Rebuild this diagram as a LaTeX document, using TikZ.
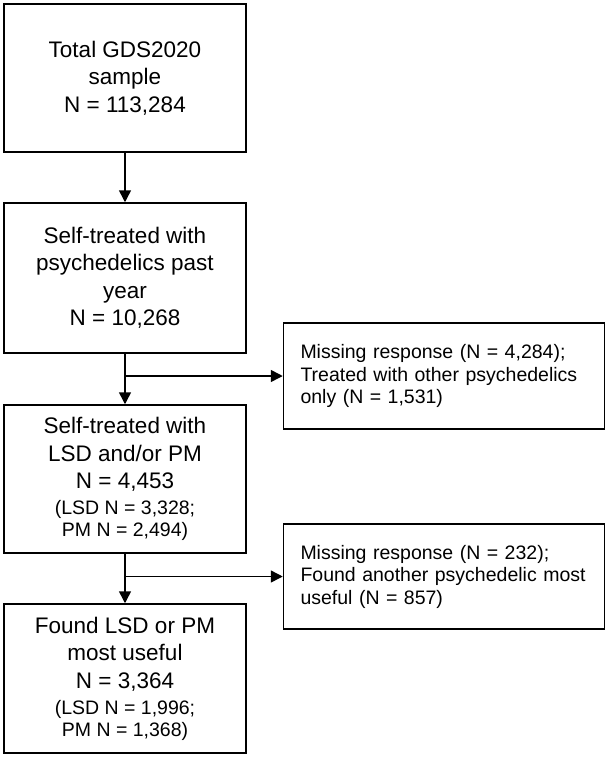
\documentclass[tikz,border=0pt]{standalone}
\usepackage{fontspec}
\setmainfont{Liberation Sans}
\usetikzlibrary{arrows.meta}
\newcommand\subline{\fontsize{19.5}{22}\selectfont}
\tikzset{
  mainbox/.style={draw, line width=1.5pt, minimum width=242pt, inner sep=0pt,
    align=center, font=\fontsize{22.5}{27.5}\selectfont},
  sidebox/.style={draw, line width=1.5pt, minimum width=321pt, inner xsep=17pt,
    text width=287pt, align=left, font=\fontsize{19.5}{22.5}\selectfont},
  flow/.style={line width=1.5pt, -{Triangle[length=12pt,width=12pt]}}
}
\begin{document}
\begin{tikzpicture}[x=1pt, y=-1pt]
        \useasboundingbox (0, 0) rectangle (609, 758);

        \node[mainbox, minimum height=148pt] (total) at (125, 78)
          {Total GDS2020\\ sample\\ N = 113,284};
        \node[mainbox, minimum height=150pt] (psy) at (125, 278)
          {Self-treated with\\ psychedelics past\\ year\\ N = 10,268};
        \node[mainbox, minimum height=148pt] (lsdpm) at (125, 479)
          {Self-treated with\\ LSD and/or PM\\ N = 4,453\\[-1.5pt]
           \subline (LSD N = 3,328;\\[-5.5pt] \subline PM N = 2,494)};
        \node[mainbox, minimum height=149pt] (useful) at (125, 678.5)
          {Found LSD or PM\\ most useful\\ N = 3,364\\[-1.5pt]
           \subline (LSD N = 1,996;\\[-5.5pt] \subline PM N = 1,368)};

        \node[sidebox, minimum height=106pt] (excl1) at (444, 376)
          {Missing response (N = 4,284);\\ Treated with other psychedelics\\ only (N = 1,531)};
        \node[sidebox, minimum height=105pt] (excl2) at (444, 576.5)
          {Missing response (N = 232);\\ Found another psychedelic most\\ useful (N = 857)};

        \coordinate (split1) at (psy.south |- excl1.west);
        \coordinate (split2) at (lsdpm.south |- excl2.west);

        \draw[flow] (total) -- (psy);
        \draw[flow] (psy) -- (lsdpm);
        \draw[flow] (lsdpm) -- (useful);
        \draw[flow] (split1) -- (excl1);
        \draw[flow] (split2) -- (excl2);

    \end{tikzpicture}
\end{document}
